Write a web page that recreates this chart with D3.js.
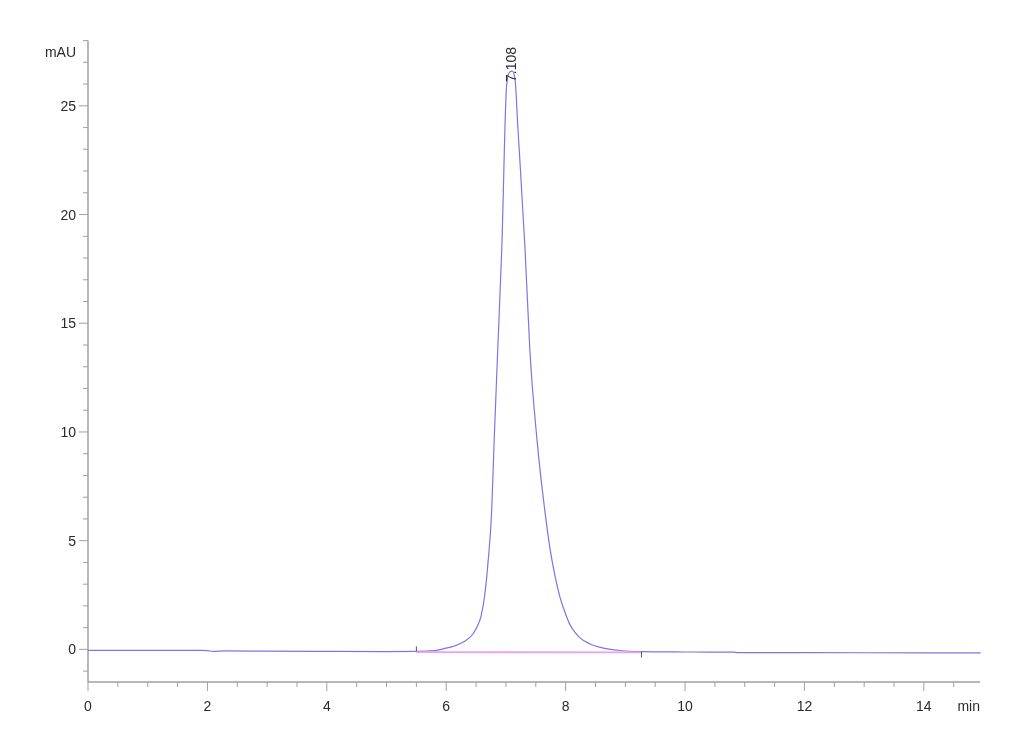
<!DOCTYPE html>
<html>
<head>
<meta charset="utf-8">
<script src="https://cdn.jsdelivr.net/npm/d3@7"></script>
<style>
  html, body { margin: 0; padding: 0; background: #fff; }
  svg { display: block; filter: blur(0.35px); }
  text { font-family: "Liberation Sans", Arial, sans-serif; fill: #2a2a2a; }
</style>
</head>
<body>
<svg id="chart" width="1030" height="755"></svg>
<script>
// ---- data ----
const timeMin = [0, 1.0, 1.9, 2.0, 2.1, 2.3, 3.0, 4.0, 5.0, 5.5, 5.8, 6.0, 6.15, 6.3, 6.45, 6.52, 6.58, 6.64, 6.70, 6.76, 6.80, 6.863, 6.93, 7.013, 7.06, 7.108, 7.153, 7.2, 7.32, 7.40, 7.52, 7.655, 7.74, 7.82, 7.90, 7.99, 8.07, 8.157, 8.24, 8.41, 8.58, 8.75, 8.91, 9.27, 10.0, 10.8, 10.9, 12.0, 14.0, 14.95];
const signalMAU = [-0.05, -0.05, -0.05, -0.06, -0.09, -0.07, -0.08, -0.09, -0.10, -0.09, -0.06, 0.06, 0.17, 0.36, 0.72, 1.05, 1.5, 2.4, 4.0, 6.3, 9.4, 13.8, 18.4, 26.0, 26.55, 26.6, 26.2, 24.0, 18.4, 13.8, 9.65, 6.3, 4.6, 3.4, 2.45, 1.7, 1.15, 0.78, 0.53, 0.25, 0.09, 0.0, -0.05, -0.10, -0.12, -0.13, -0.15, -0.15, -0.16, -0.16];
const peakTime = 7.108;
const peakLabel = "7.108";
const integStart = [5.5, -0.09];
const integEnd = [9.27, -0.10];
const xMajorTicks = [0, 2, 4, 6, 8, 10, 12, 14];
const yMajorTicks = [0, 5, 10, 15, 20, 25];
const xUnit = "min";
const yUnit = "mAU";

// ---- layout ----
const svg = d3.select("#chart");
const x = d3.scaleLinear().domain([0, 14.94]).range([88, 980]);
const y = d3.scaleLinear().domain([-1.5, 28]).range([682, 40.6]);

const axisColor = "#a0a0a0";

// x axis
const xMinor = d3.range(0, 14.94, 0.5);
const gx = svg.append("g");
gx.append("line").attr("x1", x(0)).attr("x2", x(14.94)).attr("y1", 682).attr("y2", 682)
  .attr("stroke", axisColor).attr("stroke-width", 1.5);
gx.selectAll("line.minor").data(xMinor).enter().append("line")
  .attr("x1", d => x(d)).attr("x2", d => x(d))
  .attr("y1", 682).attr("y2", d => xMajorTicks.includes(d) ? 691 : 687)
  .attr("stroke", axisColor).attr("stroke-width", 1);
gx.selectAll("text").data(xMajorTicks).enter().append("text")
  .attr("x", d => x(d)).attr("y", 711).attr("text-anchor", "middle")
  .attr("font-size", 14).text(d => d);
svg.append("text").attr("x", 980).attr("y", 711).attr("text-anchor", "end")
  .attr("font-size", 14).text(xUnit);

// y axis
const yMinor = d3.range(-1, 28.5, 1);
const gy = svg.append("g");
gy.append("line").attr("x1", 88).attr("x2", 88).attr("y1", y(28)).attr("y2", 682)
  .attr("stroke", axisColor).attr("stroke-width", 1.5);
gy.selectAll("line.minor").data(yMinor).enter().append("line")
  .attr("x1", d => yMajorTicks.includes(d) ? 79 : 83).attr("x2", 88)
  .attr("y1", d => y(d)).attr("y2", d => y(d))
  .attr("stroke", axisColor).attr("stroke-width", 1);
gy.selectAll("text").data(yMajorTicks).enter().append("text")
  .attr("x", 76).attr("y", d => y(d) + 5).attr("text-anchor", "end")
  .attr("font-size", 14).text(d => d);
svg.append("text").attr("x", 76).attr("y", 57).attr("text-anchor", "end")
  .attr("font-size", 14).text(yUnit);

// trace
const line = d3.line().x((d, i) => x(timeMin[i])).y(d => y(d)).curve(d3.curveMonotoneX);
svg.append("path").datum(signalMAU).attr("d", line)
  .attr("fill", "none").attr("stroke", "#7878e2").attr("stroke-width", 1.2);

// integration baseline (drawn over the trace)
svg.append("line")
  .attr("x1", x(integStart[0])).attr("y1", y(integStart[1]) + 0.8)
  .attr("x2", x(integEnd[0])).attr("y2", y(integEnd[1]) + 0.8)
  .attr("stroke", "#f0a0f0").attr("stroke-width", 1.8);

// integration markers
svg.append("line").attr("x1", x(integStart[0])).attr("x2", x(integStart[0]))
  .attr("y1", y(integStart[1]) - 5).attr("y2", y(integStart[1]))
  .attr("stroke", "#555").attr("stroke-width", 1);
svg.append("line").attr("x1", x(integEnd[0])).attr("x2", x(integEnd[0]))
  .attr("y1", y(integEnd[1])).attr("y2", y(integEnd[1]) + 6)
  .attr("stroke", "#555").attr("stroke-width", 1);

// peak label
svg.append("text")
  .attr("transform", `translate(${x(peakTime) + 4},82) rotate(-90)`)
  .attr("font-size", 14).text(peakLabel);
</script>
</body>
</html>
